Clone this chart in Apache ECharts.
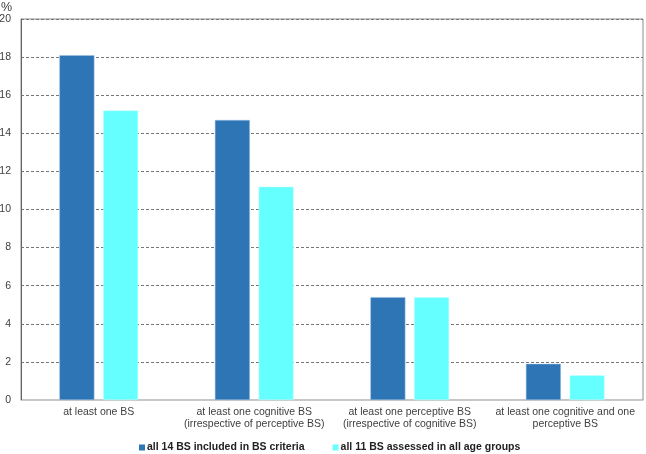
<!DOCTYPE html>
<html>
<head>
<meta charset="utf-8">
<script src="https://cdn.jsdelivr.net/npm/echarts@6/dist/echarts.min.js"></script>
<style>html,body{margin:0;padding:0;background:#fff}#c{width:646px;height:454px}</style>
</head>
<body>
<div id="c"></div>
<script>
var categories = [
  "at least one BS",
  "at least one cognitive BS\n(irrespective of perceptive BS)",
  "at least one perceptive BS\n(irrespective of cognitive BS)",
  "at least one cognitive and one\nperceptive BS"
];
var seriesNames = ["all 14 BS included in BS criteria", "all 11 BS assessed in all age groups"];
var all14 = [18.1, 14.7, 5.4, 1.9];
var all11 = [15.2, 11.2, 5.4, 1.3];

var chart = echarts.init(document.getElementById('c'));
chart.setOption({
  animation: false,
  textStyle: {fontFamily: 'Liberation Sans, Arial, sans-serif'},
  grid: {left: 21, right: 3, top: 19, bottom: 54, outerBoundsMode: 'none', containLabel: false,
         show: true, borderColor: '#8c8c8c', borderWidth: 1},
  legend: {
    top: 442, left: 139, itemWidth: 6, itemHeight: 6, itemGap: 28, icon: 'rect', padding: 0,
    itemStyle: {borderWidth: 0},
    textStyle: {fontSize: 10.5, fontWeight: 'bold', color: '#222', padding: [0, 0, 0, -3]},
    data: seriesNames
  },
  xAxis: {
    type: 'category', data: categories,
    axisLine: {lineStyle: {color: '#c8c8c8'}},
    axisTick: {show: false},
    axisLabel: {fontSize: 10.5, color: '#404040', margin: 6, lineHeight: 12, interval: 0}
  },
  yAxis: {
    type: 'value', min: 0, max: 20, interval: 2,
    name: '%', nameGap: 4, nameTextStyle: {fontSize: 12.5, color: '#404040', align: 'right', padding: [0, 9, 0, 0]},
    axisLine: {show: true, lineStyle: {color: '#666'}},
    axisTick: {show: false},
    axisLabel: {fontSize: 10.5, color: '#404040', margin: 10},
    splitLine: {lineStyle: {color: '#777', type: [3, 2]}}
  },
  series: [
    {name: seriesNames[0], type: 'bar', data: all14, barWidth: '22.5%', barGap: '25%',
     itemStyle: {color: '#2E75B6', borderColor: '#9cc3e6', borderWidth: 0.5}},
    {name: seriesNames[1], type: 'bar', data: all11, barWidth: '22.5%',
     itemStyle: {color: '#66FFFF', borderColor: '#c8ffff', borderWidth: 0.5}}
  ]
});
</script>
</body>
</html>
